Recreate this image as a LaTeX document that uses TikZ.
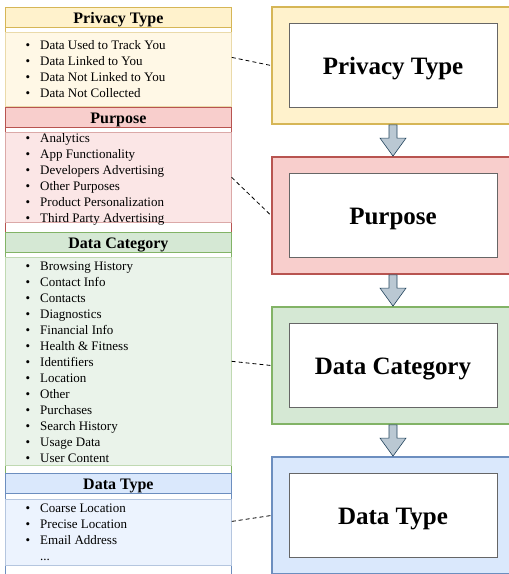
\documentclass[tikz,border=0pt]{standalone}
\usepackage{fontspec}
\setmainfont{Liberation Serif}
\usetikzlibrary{positioning,calc}
\definecolor{ptfill}{HTML}{FFF2CC}
\definecolor{ptline}{HTML}{D6B656}
\definecolor{pufill}{HTML}{F8CECC}
\definecolor{puline}{HTML}{B85450}
\definecolor{dcfill}{HTML}{D5E8D4}
\definecolor{dcline}{HTML}{82B366}
\definecolor{dtfill}{HTML}{DAE8FC}
\definecolor{dtline}{HTML}{6C8EBF}
\definecolor{arrfill}{HTML}{BAC8D3}
\definecolor{arrline}{HTML}{23445D}
\newcommand{\itm}[1]{\makebox[14.5pt][l]{\textbullet}#1}

\begin{document}
\begin{tikzpicture}[x=1pt,y=-1pt,
  panel/.style={draw,fill=white,minimum width=226pt,anchor=north west,inner sep=0pt,line width=0.8pt},
  head/.style={draw,minimum width=226pt,minimum height=20pt,anchor=north west,inner sep=0pt,line width=0.8pt,text height=13pt,text depth=0pt,font=\fontsize{16}{18}\selectfont\bfseries},
  body/.style={draw,minimum width=226pt,anchor=north west,inner sep=0pt,line width=0.6pt},
  items/.style={anchor=north west,inner sep=0pt,align=left,font=\fontsize{13}{16}\selectfont},
  level/.style={draw,line width=1.8pt,minimum width=242pt,minimum height=117pt,inner sep=0pt},
  title/.style={draw=black!60,fill=white,line width=0.8pt,minimum width=208pt,minimum height=84pt,text height=17pt,text depth=0pt,font=\fontsize{25}{30}\selectfont\bfseries},
  link/.style={line width=0.8pt,dash pattern=on 4pt off 3pt},
  flow/.style={draw=arrline,fill=arrfill,line width=0.6pt}]
\useasboundingbox (0,0) rectangle (509,574);

% left column: the lists
\node[panel,draw=ptline,minimum height=100pt] (ptpanel) at (5,7) {};
\node[body,draw=ptline!50,fill=ptfill!50,minimum height=74pt] (ptbody) at (5,32) {};
\node[head,draw=ptline,fill=ptfill] (pthead) at (5,7) {Privacy Type};
\node[items] (ptlist) at (25.5,40.4) {\itm{Data Used to Track You}\\ \itm{Data Linked to You}\\ \itm{Data Not Linked to You}\\ \itm{Data Not Collected}};

\node[panel,draw=puline,minimum height=125pt] (pupanel) at (5,107) {};
\node[body,draw=puline!50,fill=pufill!50,minimum height=90pt] (pubody) at (5,132) {};
\node[head,draw=puline,fill=pufill] (puhead) at (5,107) {Purpose};
\node[items] (pulist) at (25.5,133.6) {\itm{Analytics}\\ \itm{App Functionality}\\ \itm{Developers Advertising}\\ \itm{Other Purposes}\\ \itm{Product Personalization}\\ \itm{Third Party Advertising}};

\node[panel,draw=dcline,minimum height=241pt] (dcpanel) at (5,232) {};
\node[body,draw=dcline!50,fill=dcfill!50,minimum height=208pt] (dcbody) at (5,257) {};
\node[head,draw=dcline,fill=dcfill] (dchead) at (5,232) {Data Category};
\node[items] (dclist) at (25.5,261.8) {\itm{Browsing History}\\ \itm{Contact Info}\\ \itm{Contacts}\\ \itm{Diagnostics}\\ \itm{Financial Info}\\ \itm{Health \& Fitness}\\ \itm{Identifiers}\\ \itm{Location}\\ \itm{Other}\\ \itm{Purchases}\\ \itm{Search History}\\ \itm{Usage Data}\\ \itm{User Content}};

\node[panel,draw=dtline,minimum height=103pt] (dtpanel) at (5,473) {};
\node[body,draw=dtline!50,fill=dtfill!50,minimum height=66pt] (dtbody) at (5,499) {};
\node[head,draw=dtline,fill=dtfill] (dthead) at (5,473) {Data Type};
\node[items] (dtlist) at (25.5,503.6) {\itm{Coarse Location}\\ \itm{Precise Location}\\ \itm{Email Address}\\ \hspace*{14.5pt}...};

% right column: the levels
\node[level,draw=ptline,fill=ptfill] (ptbox) at (393,65.5) {};
\node[level,draw=puline,fill=pufill,below=31.2pt of ptbox] (pubox) {};
\node[level,draw=dcline,fill=dcfill,below=31.2pt of pubox] (dcbox) {};
\node[level,draw=dtline,fill=dtfill,below=31.2pt of dcbox] (dtbox) {};
\node[title] (pttitle) at (ptbox) {Privacy Type};
\node[title] (putitle) at (pubox) {Purpose};
\node[title] (dctitle) at (dcbox) {Data Category};
\node[title] (dttitle) at (dtbox) {Data Type};

\foreach \a/\b in {ptbox/pubox,pubox/dcbox,dcbox/dtbox}
  \draw[flow] ($(\a.south)+(-4,0)$) -- ($(\b.north)+(-4,-18)$) -- ++(-9,0) -- (\b.north)
    -- ++(13,-18) -- ++(-9,0) -- ($(\a.south)+(4,0)$) -- cycle;

\draw[link] (ptpanel.east) -- (ptbox.west);
\draw[link] (pubody.east) -- (pubox.west);
\draw[link] (dcbody.east) -- (dcbox.west);
\draw[link] ([yshift=3.5pt]dtpanel.east) -- (dtbox.west);
\end{tikzpicture}
\end{document}
